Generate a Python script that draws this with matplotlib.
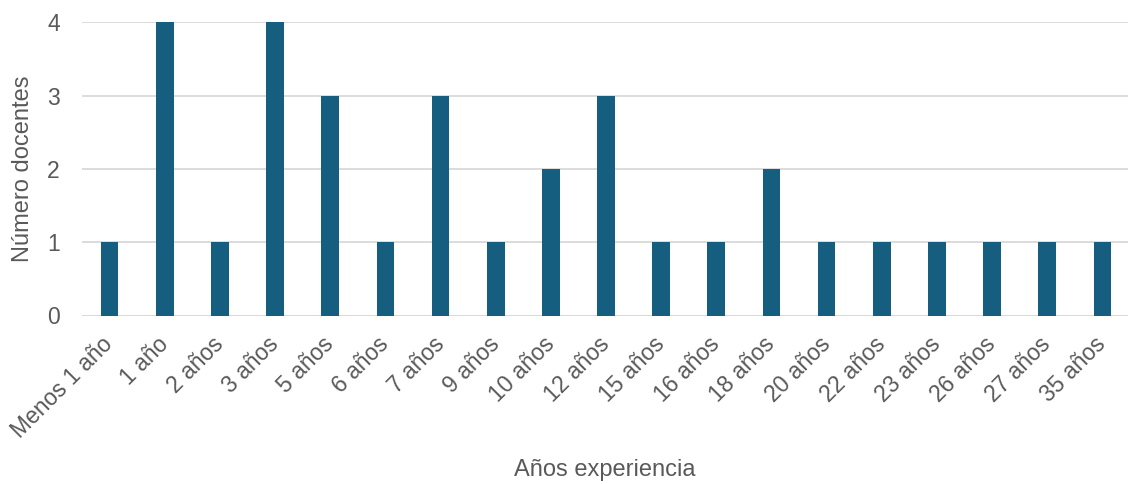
import numpy as np
import matplotlib.pyplot as plt

categorias = ["Menos 1 año", "1 año", "2 años", "3 años", "5 años", "6 años", "7 años",
              "9 años", "10 años", "12 años", "15 años", "16 años", "18 años", "20 años",
              "22 años", "23 años", "26 años", "27 años", "35 años"]
docentes = [1, 4, 1, 4, 3, 1, 3, 1, 2, 3, 1, 1, 2, 1, 1, 1, 1, 1, 1]

plt.rcParams['font.family'] = ['Liberation Sans', 'DejaVu Sans']
gris = '#595959'

fig = plt.figure(figsize=(11.28, 4.84), dpi=100)
ax = fig.add_axes([82/1128, 168.5/484, 1048/1128, 293/484])

x = np.arange(len(categorias))
ax.bar(x, docentes, width=0.32, color='#165e80', zorder=3)

ax.set_xlim(-0.5, len(categorias) - 0.5)
ax.set_ylim(0, 4)
ax.set_yticks([0, 1, 2, 3, 4])
ax.yaxis.grid(True, color='#d9d9d9', linewidth=1.3, zorder=0)
for s in ax.spines.values():
    s.set_visible(False)
ax.axhline(0, color='#d9d9d9', linewidth=1.3, zorder=1)

ax.set_xticks(x)
ax.set_xticklabels(categorias, rotation=45, ha='right', va='center', rotation_mode='anchor')
ax.tick_params(axis='both', length=0, labelsize=16.5, labelcolor=gris)
ax.tick_params(axis='x', pad=18)
ax.tick_params(axis='y', pad=16)

ax.set_ylabel('Número docentes', fontsize=17, color=gris, va='center')
ax.yaxis.set_label_coords(-(82 - 23) / 1048, 0.5)
ax.set_xlabel('Años experiencia', fontsize=17, color=gris, va='center')
ax.xaxis.set_label_coords((605 - 82) / 1048, -(470 - 315.5) / 293)

fig.savefig('out.png', dpi=100)
